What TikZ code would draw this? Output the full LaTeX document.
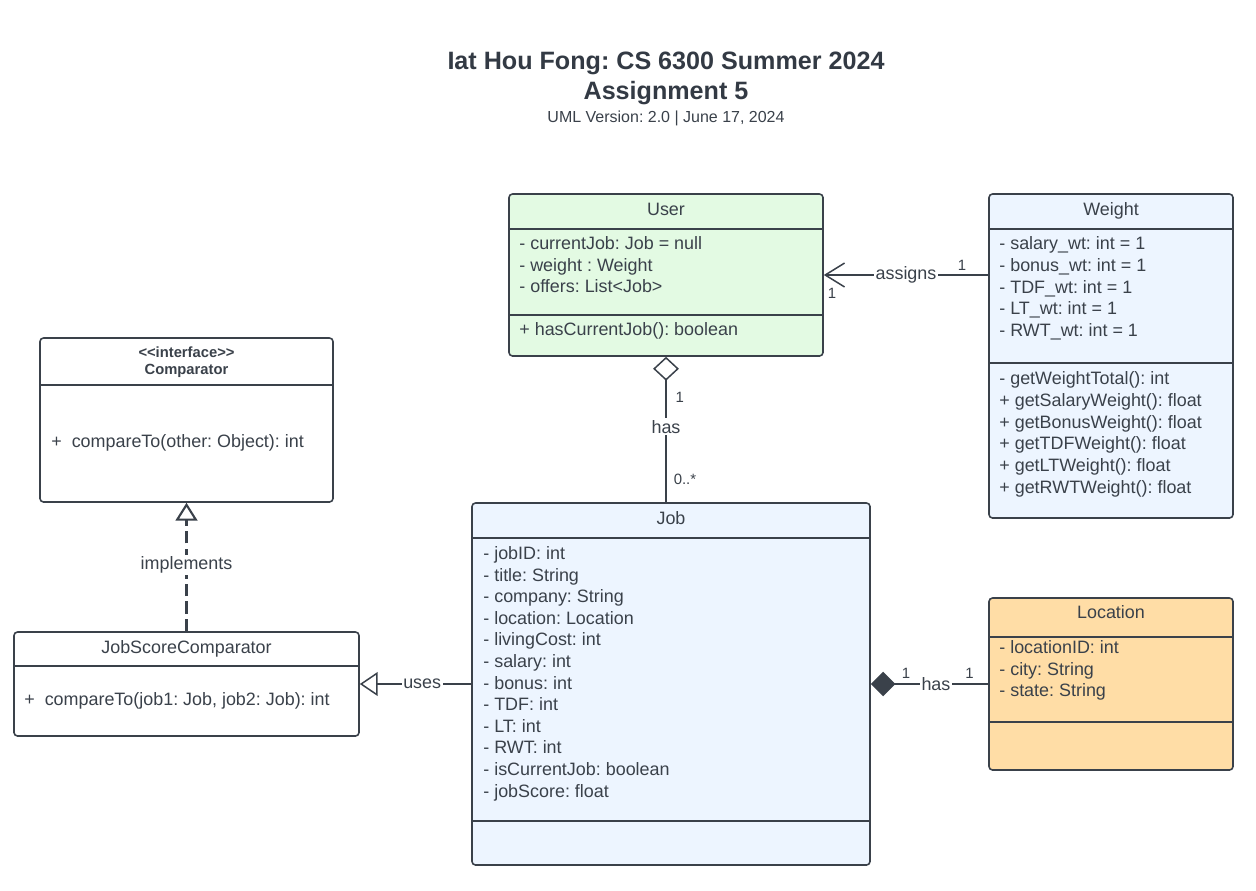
\documentclass[tikz,border=0pt]{standalone}
\usepackage{fontspec}
\setmainfont{Liberation Sans}
\usepackage{xcolor}
\usepackage{tikz}
\usetikzlibrary{arrows.meta,positioning,fit}
\frenchspacing

\definecolor{ink}{HTML}{3A414A}
\definecolor{headink}{HTML}{333A44}
\definecolor{usergreen}{HTML}{E3FAE3}
\definecolor{paleblue}{HTML}{EDF5FF}
\definecolor{locorange}{HTML}{FFDDA6}

\begin{document}
\begin{tikzpicture}[
  x=0.02cm, y=-0.02cm,
  every node/.style={text=ink},
  cls/.style={draw=ink, line width=0.9pt, rounded corners=2pt, inner sep=0pt},
  sep/.style={draw=ink, line width=1.1pt},
  cname/.style={anchor=base, font=\fontsize{10.2}{12.3}\selectfont, inner sep=0pt},
  % multi-line member lists sit on the baseline of their last line
  members/.style={anchor=base west, align=left, font=\fontsize{10.2}{12.3}\selectfont, inner sep=0pt},
  stereo/.style={anchor=base, align=center, font=\fontsize{8.4}{9.6}\selectfont\bfseries, inner sep=0pt},
  link/.style={draw=ink, line width=0.85pt},
  lbl/.style={fill=white, inner sep=1pt, font=\fontsize{10.2}{12.3}\selectfont},
  mult/.style={font=\fontsize{8.5}{10}\selectfont, inner sep=1pt}
]
\path[use as bounding box, fill=white] (0,0) rectangle (1256,890);

% heading
\node[anchor=base, align=center, text=headink, font=\fontsize{14.3}{17}\selectfont\bfseries] (title) at (666,99) {Iat Hou Fong: CS 6300 Summer 2024\\Assignment 5};
\node[anchor=base, font=\fontsize{9.1}{11}\selectfont] (subtitle) at (666,122) {UML Version: 2.0 | June 17, 2024};

% User
\node[cls, fill=usergreen, fit={(509,194) (823,356)}] (user) {};
\draw[sep] (509,229) -- (823,229);
\draw[sep] (509,315) -- (823,315);
\node[cname] (user-name) at (666,215.5) {User};
\node[members] (user-attr) at (519,292.9) {- currentJob: Job = null\\- weight : Weight\\- offers: List<Job>};
\node[members] (user-ops) at (519,335.5) {+ hasCurrentJob(): boolean};

% Weight
\node[cls, fill=paleblue, fit={(989,194) (1233,518)}] (weight) {};
\draw[sep] (989,229) -- (1233,229);
\draw[sep] (989,363) -- (1233,363);
\node[cname] (weight-name) at (1111,215.5) {Weight};
\node[members] (weight-attr) at (999,336.3) {- salary\_wt: int = 1\\- bonus\_wt: int = 1\\- TDF\_wt: int = 1\\- LT\_wt: int = 1\\- RWT\_wt: int = 1};
\node[members] (weight-ops) at (999,493) {- getWeightTotal(): int\\+ getSalaryWeight(): float\\+ getBonusWeight(): float\\+ getTDFWeight(): float\\+ getLTWeight(): float\\+ getRWTWeight(): float};

% Comparator interface
\node[cls, fill=white, fit={(40,338) (333,502)}] (comparator) {};
\draw[sep] (40,385) -- (333,385);
\node[stereo] (comparator-name) at (186.5,374.5) {{<}{<}interface{>}{>}\\Comparator};
\node[members] (comparator-ops) at (51,447.5) {+~~compareTo(other: Object): int};

% JobScoreComparator
\node[cls, fill=white, fit={(14,632) (359,736)}] (jsc) {};
\draw[sep] (14,666) -- (359,666);
\node[cname] (jsc-name) at (186.5,653.5) {JobScoreComparator};
\node[members] (jsc-ops) at (24,705.5) {+~~compareTo(job1: Job, job2: Job): int};

% Job
\node[cls, fill=paleblue, fit={(472,503) (870,865)}] (job) {};
\draw[sep] (472,538) -- (870,538);
\draw[sep] (472,821) -- (870,821);
\node[cname] (job-name) at (671,524.5) {Job};
\node[members] (job-attr) at (483,797.2) {- jobID: int\\- title: String\\- company: String\\- location: Location\\- livingCost: int\\- salary: int\\- bonus: int\\- TDF: int\\- LT: int\\- RWT: int\\- isCurrentJob: boolean\\- jobScore: float};

% Location
\node[cls, fill=locorange, fit={(989,598) (1233,770)}] (location) {};
\draw[sep] (989,637) -- (1233,637);
\draw[sep] (989,722) -- (1233,722);
\node[cname] (location-name) at (1111,618.5) {Location};
\node[members] (location-attr) at (999,696.9) {- locationID: int\\- city: String\\- state: String};

% relations
\draw[link, -{Straight Barb[length=11pt, width=13.6pt]}] (weight.west |- user.east) -- node[lbl, pos=0.5] {assigns} node[mult, above=1pt, pos=0.16] {1} node[mult, below=6pt, pos=0.95] {1} (user.east);
\draw[link, {Diamond[open, length=13.6pt, width=14.7pt]}-] (user.south) -- node[mult, right=4pt, pos=0.28] {1} node[lbl, pos=0.48] {has} node[mult, right=3pt, pos=0.84] {0..*} (user.south |- job.north);
\draw[link, line width=1.2pt, dash pattern=on 7pt off 3pt, -{Triangle[open, length=10.2pt, width=12.5pt]}] (jsc.north) -- node[lbl, pos=0.515] {implements} (comparator.south);
\draw[link, -{Triangle[open, length=10.2pt, width=13.6pt]}] (job.west) -- node[lbl, pos=0.44] {uses} (jsc.east |- job.west);
\draw[link, {Diamond[length=14pt, width=14pt]}-] (job.east) -- node[mult, above=2pt, pos=0.30] {1} node[lbl, pos=0.555] {has} node[mult, above=2pt, pos=0.84] {1} (location.west |- job.east);
\end{tikzpicture}
\end{document}
